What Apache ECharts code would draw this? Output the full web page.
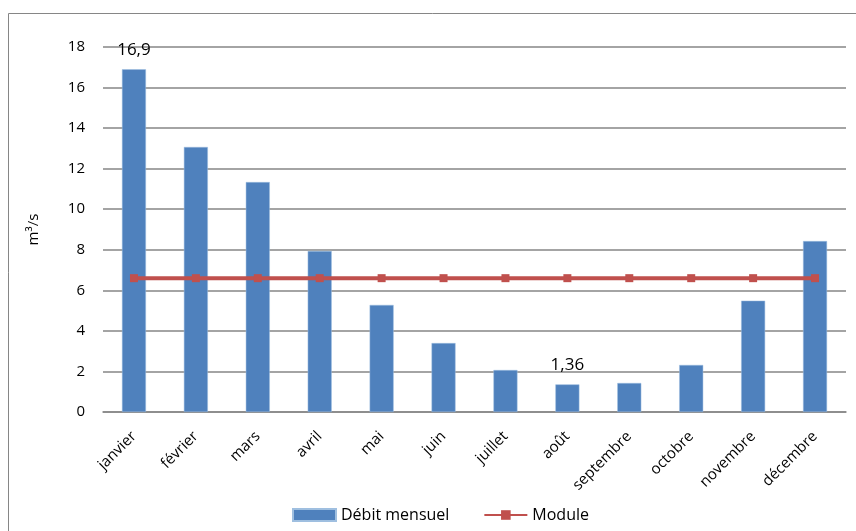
<!DOCTYPE html>
<html>
<head>
<meta charset="UTF-8">
<title>Débit mensuel</title>
<script type="text/javascript" src="https://cdn.jsdelivr.net/npm/echarts@6/dist/echarts.min.js"></script>
<style>
  body{margin:0;padding:0;background:#fff}
</style>
</head>
<body>
<div id="main" style="width:856px;height:531px"></div>
<script type="text/javascript">
var mois = ['janvier', 'février', 'mars', 'avril', 'mai', 'juin', 'juillet', 'août', 'septembre', 'octobre', 'novembre', 'décembre'];
var debit = [16.9, 13.07, 11.34, 7.94, 5.28, 3.4, 2.07, 1.36, 1.43, 2.32, 5.49, 8.43];
var module = [6.6, 6.6, 6.6, 6.6, 6.6, 6.6, 6.6, 6.6, 6.6, 6.6, 6.6, 6.6];
var etiquettes = {0: '16,9', 7: '1,36'};   // seules valeurs affichées

var police = 'Open Sans';
var myChart = echarts.init(document.getElementById('main'));

var option = {
    animation: false,
    textStyle: {fontFamily: police},
    graphic: [{
        // cadre du graphique
        type: 'rect',
        shape: {x: 8.5, y: 13.5, width: 860, height: 530},
        style: {fill: 'none', stroke: '#868686', lineWidth: 1}
    }],
    grid: {left: 103, right: 10, top: 47, bottom: 119},
    legend: {
        bottom: 3,
        left: 287,
        itemGap: 34,
        itemWidth: 43,
        itemHeight: 12,
        textStyle: {fontFamily: police, fontSize: 16, color: '#000'},
        data: [
            {name: 'Débit mensuel', icon: 'rect'},
            {name: 'Module'}
        ]
    },
    xAxis: {
        type: 'category',
        data: mois,
        axisLine: {lineStyle: {color: '#868686', width: 1.5}},
        axisTick: {show: false},
        axisLabel: {rotate: 45, color: '#000', fontSize: 15, margin: 22, interval: 0}
    },
    yAxis: {
        type: 'value',
        min: 0,
        max: 18,
        interval: 2,
        name: 'm³/s',
        nameLocation: 'middle',
        nameGap: 62,
        nameTextStyle: {fontSize: 15, color: '#000'},
        axisLine: {show: false},
        axisTick: {show: false},
        axisLabel: {color: '#000', fontSize: 15, margin: 18},
        splitLine: {lineStyle: {color: '#868686', width: 1.5}}
    },
    series: [
        {
            name: 'Débit mensuel',
            type: 'bar',
            data: debit,
            barWidth: 24,
            itemStyle: {color: '#4F81BD', borderColor: '#9fbfe0', borderWidth: 0.5},
            label: {
                show: true,
                position: 'top',
                distance: 11,
                color: '#000',
                fontSize: 17,
                fontFamily: police,
                formatter: function (p) {
                    return etiquettes[p.dataIndex] || '';
                }
            }
        },
        {
            name: 'Module',
            type: 'line',
            data: module,
            symbol: 'rect',
            symbolSize: 8,
            lineStyle: {color: '#C0504D', width: 4},
            itemStyle: {color: '#C0504D'}
        }
    ]
};

myChart.setOption(option);
</script>
</body>
</html>
